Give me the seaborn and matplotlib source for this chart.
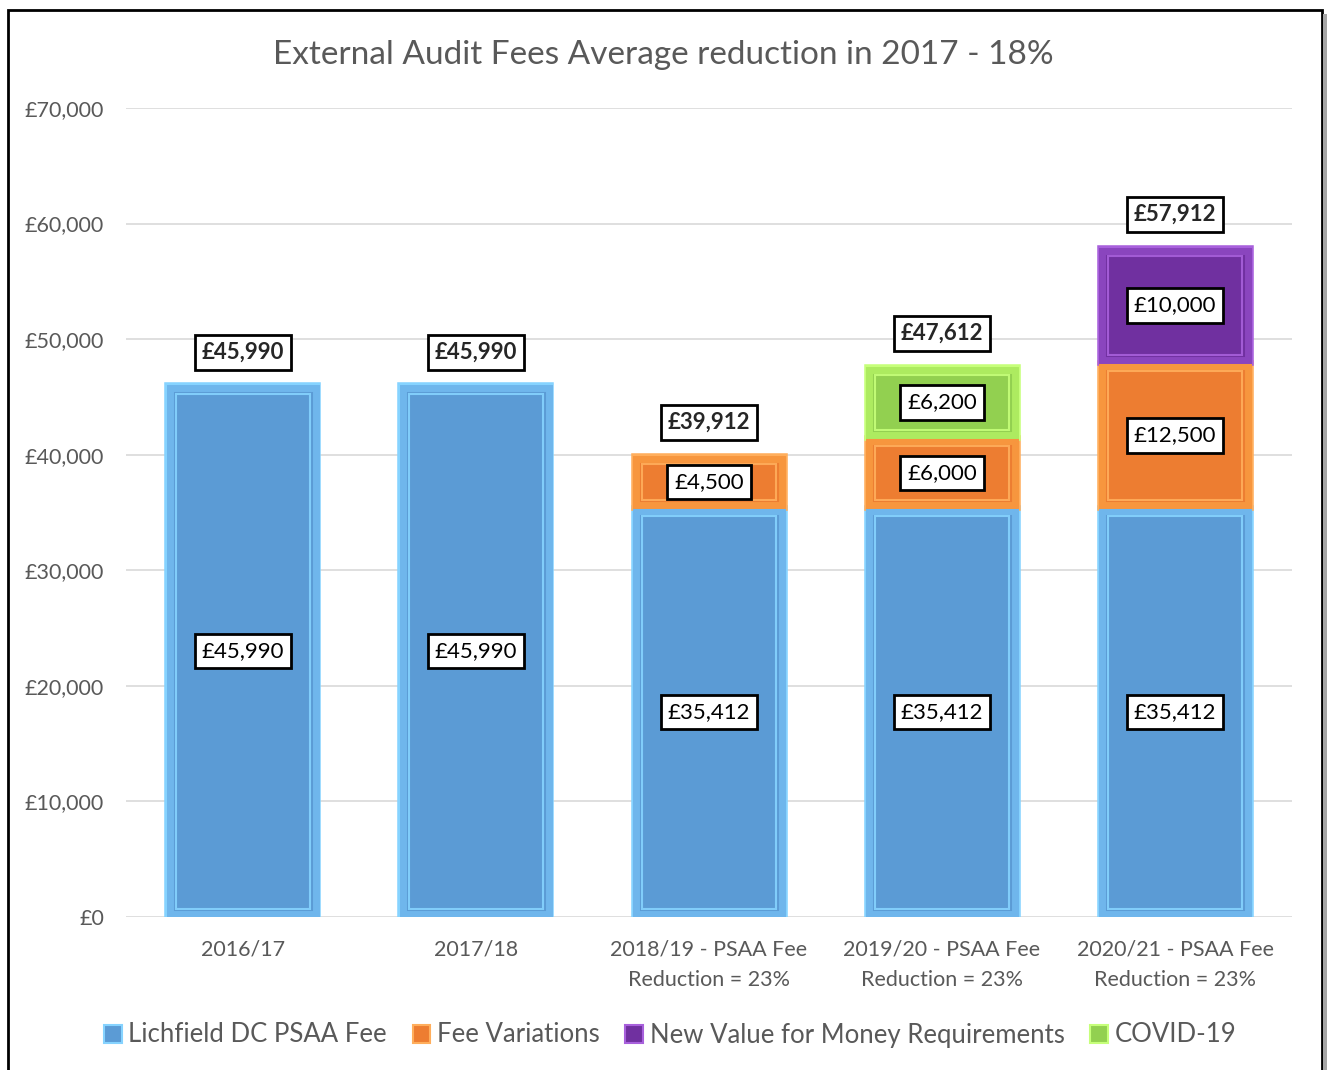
import seaborn as sns
import matplotlib.pyplot as plt
import pandas as pd
from matplotlib.patches import Rectangle, Patch

# dados do grafico
years = ['2016/17', '2017/18', '2018/19 - PSAA Fee\nReduction = 23%',
         '2019/20 - PSAA Fee\nReduction = 23%', '2020/21 - PSAA Fee\nReduction = 23%']
psaa_fee = [45990, 45990, 35412, 35412, 35412]
fee_variations = [0, 0, 4500, 6000, 12500]
new_vfm = [0, 0, 0, 0, 10000]
covid = [0, 0, 0, 6200, 0]
series_names = ['Lichfield DC PSAA Fee', 'Fee Variations',
                'New Value for Money Requirements', 'COVID-19']
yticks = list(range(0, 70001, 10000))

colors = ['#5B9BD5', '#ED7D31', '#7030A0', '#92D050']
light = ['#86D3FF', '#FFAE5C', '#A860DC', '#C6FF7A']
mid = ['#6FB6EC', '#F7963E', '#8A45BE', '#ADEB60']

sns.set_theme(style='white')
plt.rcParams['font.family'] = ['Lato', 'DejaVu Sans']

fig = plt.figure(figsize=(13.27, 10.70), dpi=100)
ax = fig.add_axes([0.0953, 0.1430, 0.878, 0.7561])

series = [psaa_fee, fee_variations, new_vfm, covid]
bottom = [0] * len(years)
for i, vals in enumerate(series):
    df = pd.DataFrame({'year': years, 'value': vals, 'bottom': bottom})
    df = df[df['value'] > 0]
    n_before = len(ax.patches)
    sns.barplot(data=df, x='year', y='value', order=years, color=colors[i],
                saturation=1, width=0.648, bottom=df['bottom'].to_numpy(),
                edgecolor=light[i], linewidth=4, ax=ax, zorder=3)
    new_patches = ax.patches[n_before:]
    for p, v in zip(new_patches, df['value']):
        x, y, w, h = p.get_x(), p.get_y(), p.get_width(), p.get_height()
        # efeito de bisel
        ax.add_patch(Rectangle((x + 0.012, y + 250), w - 0.024, h - 500,
                               fill=False, edgecolor=mid[i], lw=5, zorder=4))
        ax.add_patch(Rectangle((x + 0.035, y + 700), w - 0.07, h - 1400,
                               fill=False, edgecolor=light[i], lw=1.5,
                               alpha=0.9, zorder=4))
        ax.text(x + w / 2, y + h / 2, f'£{v:,.0f}', ha='center', va='center',
                fontsize=16, color='black', zorder=6,
                bbox=dict(boxstyle='square,pad=0.32', fc='white', ec='black', lw=2))
    bottom = [b + v for b, v in zip(bottom, vals)]

# totais
for i, t in enumerate(bottom):
    ax.annotate(f'£{t:,.0f}', xy=(i, t), xytext=(0, 24), textcoords='offset points',
                ha='center', va='center', fontsize=16, fontweight='bold', zorder=6,
                bbox=dict(boxstyle='square,pad=0.32', fc='white', ec='black', lw=2))

ax.set_ylim(0, 70000)
ax.set_xlim(-0.5, len(years) - 0.5)
ax.set_yticks(yticks)
ax.set_yticklabels([f'£{v:,.0f}' for v in yticks])
ax.set_xlabel('')
ax.set_ylabel('')
ax.grid(axis='y', color='#D9D9D9', lw=1.2, zorder=0)
ax.tick_params(axis='y', length=0, pad=16, labelsize=15.5, labelcolor='#595959')
ax.tick_params(axis='x', length=0, pad=16, labelsize=15.5, labelcolor='#595959')
for lbl in ax.get_xticklabels():
    lbl.set_linespacing(1.7)
for s in ax.spines.values():
    s.set_visible(False)

fig.text(0.5, 1 - 55 / 1070, 'External Audit Fees Average reduction in 2017 - 18%',
         ha='center', va='center', fontsize=24, color='#595959')

handles = [Patch(facecolor=c, edgecolor=l, lw=1.5) for c, l in zip(colors, light)]
fig.legend(handles, series_names, loc='center', bbox_to_anchor=(0.505, 1 - 1035 / 1070),
           ncol=4, frameon=False, fontsize=18.5, labelcolor='#595959',
           handlelength=0.7, handleheight=0.7, handletextpad=0.25, columnspacing=1.0)

# moldura
fig.patches.append(Rectangle((8 / 1327, -0.02), 1314 / 1327, 1.02 - 10 / 1070,
                             transform=fig.transFigure, fill=False, ec='black', lw=2))
fig.patches.append(Rectangle((1323 / 1327, -0.02), 4 / 1327, 1.02 - 14 / 1070,
                             transform=fig.transFigure, fc='#A6A6A6', ec='none'))

fig.savefig('out.png', dpi=100)
